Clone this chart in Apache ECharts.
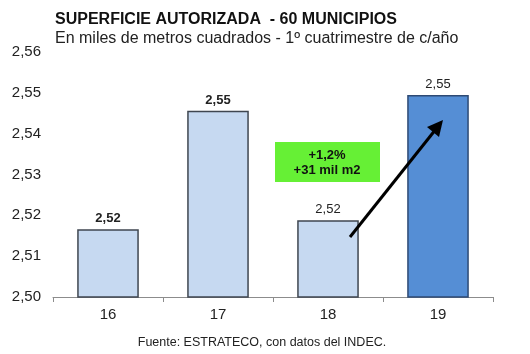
<!DOCTYPE html>
<html>
<head>
<meta charset="utf-8">
<script src="https://cdn.jsdelivr.net/npm/echarts@6/dist/echarts.min.js"></script>
<style>
  html, body { margin: 0; padding: 0; background: #fff; }
  #chart { width: 530px; height: 354px; }
</style>
</head>
<body>
<div id="chart"></div>
<script>
// datos
const years = ['16', '17', '18', '19'];
const values = [2.5166, 2.5456, 2.5188, 2.5495];
const valueLabels = ['2,52', '2,55', '2,52', '2,55'];
const yTicks = [2.50, 2.51, 2.52, 2.53, 2.54, 2.55, 2.56];

const font = 'Liberation Sans, Arial, sans-serif';
let myChart = echarts.init(document.getElementById('chart'));

let barData = values.map(function (v, i) {
  let last = i === values.length - 1;
  return {
    value: v,
    itemStyle: {
      color: last ? '#558ed5' : '#c6d9f1',
      borderColor: last ? '#2e4a74' : '#3f4650',
      borderWidth: 1.5
    },
    label: { fontWeight: i < 2 ? 'bold' : 'normal' }
  };
});

let option = {
  animation: false,
  textStyle: { fontFamily: font },
  title: {
    text: 'SUPERFICIE AUTORIZADA  - 60 MUNICIPIOS',
    subtext: 'En miles de metros cuadrados - 1º cuatrimestre de c/año',
    left: 50,
    top: 7,
    itemGap: 3,
    textStyle: { fontSize: 16, fontWeight: 'bold', color: '#111', fontFamily: font },
    subtextStyle: { fontSize: 16, color: '#222', fontFamily: font }
  },
  grid: { left: 53, right: 37, top: 52, bottom: 57 },
  xAxis: {
    type: 'category',
    data: years,
    axisLine: { lineStyle: { color: '#8c8c8c' } },
    axisTick: { show: true, length: 5, lineStyle: { color: '#8c8c8c' } },
    axisLabel: { fontSize: 15, color: '#222', margin: 10 }
  },
  yAxis: {
    type: 'value',
    min: 2.50,
    max: 2.56,
    interval: 0.01,
    axisLine: { show: false },
    axisTick: { show: false },
    splitLine: { show: false },
    axisLabel: {
      fontSize: 15,
      color: '#222',
      margin: 12,
      formatter: function (v) { return v.toFixed(2).replace('.', ','); }
    }
  },
  series: [
    {
      type: 'bar',
      data: barData,
      barWidth: '56%',
      label: {
        show: true,
        position: 'top',
        fontSize: 13,
        color: '#222',
        distance: 4,
        formatter: function (p) { return valueLabels[p.dataIndex]; }
      }
    }
  ],
  graphic: [
    {
      type: 'rect',
      z: 100,
      x: 275, y: 142,
      shape: { width: 105, height: 40 },
      style: { fill: '#66f035' }
    },
    {
      type: 'text',
      z: 101,
      x: 327, y: 148,
      style: {
        text: '+1,2%\n+31 mil m2',
        align: 'center',
        font: 'bold 13px ' + font,
        lineHeight: 15,
        fill: '#111'
      }
    },
    {
      type: 'line',
      z: 100,
      shape: { x1: 350, y1: 237, x2: 436, y2: 129 },
      style: { stroke: '#000', lineWidth: 3 }
    },
    {
      type: 'polygon',
      z: 100,
      shape: { points: [[443, 120], [427, 127], [439, 137]] },
      style: { fill: '#000' }
    },
    {
      type: 'text',
      z: 100,
      x: 262, y: 336,
      style: {
        text: 'Fuente: ESTRATECO, con datos del INDEC.',
        align: 'center',
        font: '12.5px ' + font,
        fill: '#222'
      }
    }
  ]
};
myChart.setOption(option);
</script>
</body>
</html>
